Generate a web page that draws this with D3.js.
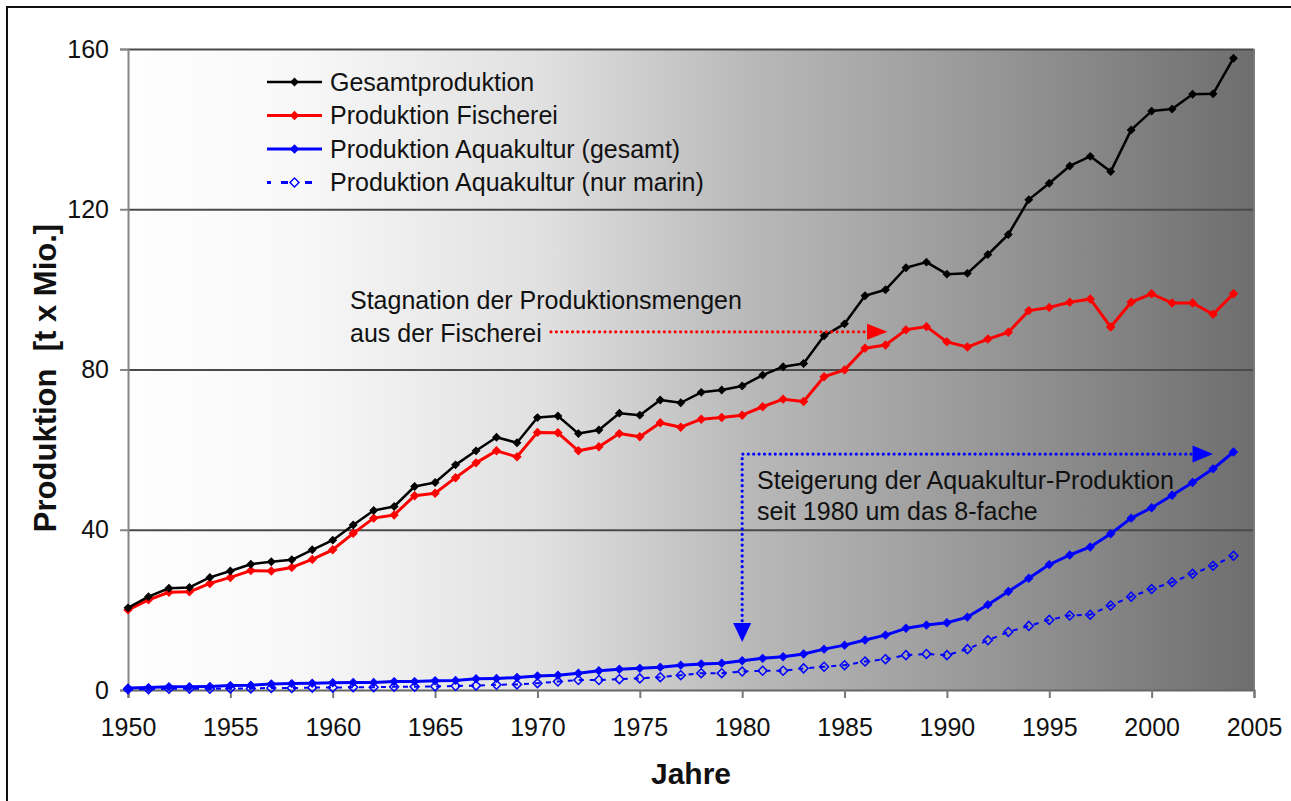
<!DOCTYPE html>
<html>
<head>
<meta charset="utf-8">
<script src="https://cdn.jsdelivr.net/npm/d3@7"></script>
<style>
  body { margin: 0; background: #fff; }
  text { font-family: "Liberation Sans", Arial, sans-serif; fill: #111; }
</style>
</head>
<body>
<svg id="chart" width="1291" height="801"></svg>
<script>
// years on the x axis
const years = [1950,1951,1952,1953,1954,1955,1956,1957,1958,1959,
  1960,1961,1962,1963,1964,1965,1966,1967,1968,1969,
  1970,1971,1972,1973,1974,1975,1976,1977,1978,1979,
  1980,1981,1982,1983,1984,1985,1986,1987,1988,1989,
  1990,1991,1992,1993,1994,1995,1996,1997,1998,1999,
  2000,2001,2002,2003,2004];

const gesamt = [20.5,23.3,25.4,25.6,28.1,29.7,31.4,32.0,32.5,35.0,
  37.4,41.2,44.8,45.8,50.8,51.8,56.2,59.7,63.1,61.7,
  68.0,68.4,64.0,64.9,69.1,68.6,72.4,71.7,74.3,74.9,
  75.9,78.6,80.7,81.5,88.4,91.4,98.4,99.9,105.4,106.8,
  103.8,104.0,108.7,113.7,122.4,126.5,130.8,133.2,129.4,139.8,
  144.5,145.0,148.7,148.8,157.7];

const fischerei = [20.0,22.5,24.4,24.5,26.6,28.1,29.8,29.7,30.6,32.6,
  35.0,39.1,42.9,43.7,48.5,49.1,53.0,56.7,59.7,58.2,
  64.3,64.2,59.7,60.7,64.0,63.2,66.7,65.6,67.6,68.0,
  68.6,70.7,72.6,72.0,78.2,79.9,85.3,86.1,89.9,90.7,
  86.9,85.6,87.6,89.3,94.7,95.5,96.8,97.6,90.6,96.8,
  98.9,96.6,96.6,93.8,98.9];

const aquaGesamt = [0.5,0.6,0.8,0.8,0.9,1.1,1.2,1.5,1.6,1.7,
  1.8,1.9,1.9,2.1,2.1,2.3,2.4,2.8,2.9,3.1,
  3.5,3.7,4.2,4.8,5.2,5.4,5.7,6.2,6.5,6.7,
  7.3,7.9,8.3,9.0,10.2,11.2,12.5,13.7,15.4,16.2,
  16.8,18.2,21.3,24.6,27.9,31.3,33.7,35.7,39.0,42.9,
  45.5,48.6,51.8,55.2,59.4];

const aquaMarin = [0.2,0.2,0.3,0.3,0.3,0.4,0.4,0.5,0.5,0.6,
  0.6,0.7,0.7,0.8,0.8,0.9,1.0,1.1,1.3,1.4,
  1.7,2.1,2.5,2.5,2.7,2.9,3.2,3.7,4.2,4.2,
  4.6,4.8,4.8,5.4,5.8,6.2,7.1,7.7,8.7,9.0,
  8.7,10.2,12.4,14.5,16.0,17.5,18.6,18.8,21.1,23.3,
  25.2,26.9,29.0,31.0,33.5];

const yTicks = [0, 40, 80, 120, 160];
const xTicks = [1950,1955,1960,1965,1970,1975,1980,1985,1990,1995,2000,2005];

const seriesNames = ["Gesamtproduktion", "Produktion Fischerei",
  "Produktion Aquakultur (gesamt)", "Produktion Aquakultur (nur marin)"];

const svg = d3.select("#chart");
const plotL = 128, plotR = 1254, plotT = 49, plotB = 690;

const x = d3.scaleLinear().domain([1950, 2005]).range([plotL, plotR]);
const y = d3.scaleLinear().domain([0, 160]).range([plotB, plotT]);

// outer frame (only left and top visible)
svg.append("path")
  .attr("d", "M7,801 L7,7 L1291,7")
  .attr("fill", "none").attr("stroke", "#111").attr("stroke-width", 2);

// background gradient of the plot area
const defs = svg.append("defs");
const grad = defs.append("linearGradient").attr("id", "bg")
  .attr("x1", 0).attr("x2", 1).attr("y1", 0).attr("y2", 0);
[[0, "#fefefe"], [0.15, "#f8f8f8"], [0.37, "#e0e0e0"], [0.55, "#b9b9b9"],
 [0.77, "#969696"], [1, "#6e6e6e"]].forEach(s => {
  grad.append("stop").attr("offset", s[0]).attr("stop-color", s[1]);
});
svg.append("rect")
  .attr("x", plotL).attr("y", plotT)
  .attr("width", plotR - plotL).attr("height", plotB - plotT)
  .attr("fill", "url(#bg)");

// gridlines
svg.append("g")
  .attr("transform", `translate(${plotL},0)`)
  .call(d3.axisLeft(y).tickValues(yTicks.slice(1)).tickSize(-(plotR - plotL)).tickFormat(""))
  .call(g => g.select(".domain").remove())
  .call(g => g.selectAll("line").attr("stroke", "#4a4a4a").attr("stroke-width", 2));

// right border
svg.append("line")
  .attr("x1", plotR).attr("x2", plotR).attr("y1", plotT).attr("y2", plotB)
  .attr("stroke", "#7a7a7a").attr("stroke-width", 2);

// y axis
const yAxis = svg.append("g")
  .attr("transform", `translate(${plotL},0)`)
  .call(d3.axisLeft(y).tickValues(yTicks).tickSize(8).tickPadding(11));
yAxis.select(".domain").attr("stroke", "#858585").attr("stroke-width", 2);
yAxis.selectAll("line").attr("stroke", "#858585").attr("stroke-width", 2);
yAxis.selectAll("text").style("font-size", "25px").attr("fill", "#111");

// x axis
const xAxis = svg.append("g")
  .attr("transform", `translate(0,${plotB})`)
  .call(d3.axisBottom(x).tickValues(xTicks).tickSize(8).tickPadding(20).tickFormat(d3.format("d")));
xAxis.select(".domain").attr("stroke", "#666").attr("stroke-width", 2);
xAxis.selectAll("line").attr("stroke", "#777").attr("stroke-width", 2);
xAxis.selectAll("text").style("font-size", "25px").attr("fill", "#111");

// axis titles
svg.append("text")
  .attr("x", 691).attr("y", 784)
  .attr("text-anchor", "middle")
  .style("font-size", "30px").style("font-weight", "bold")
  .text("Jahre");

svg.append("text")
  .attr("transform", "translate(56,378) rotate(-90)")
  .attr("text-anchor", "middle")
  .style("font-size", "31px").style("font-weight", "bold")
  .style("white-space", "pre")
  .text("Produktion  [t x Mio.]");

// series
const diamond = d3.symbol().type(d3.symbolSquare);
const series = [
  {name: seriesNames[0], values: gesamt, color: "#000", width: 2.5, mark: 28, dash: null, open: false},
  {name: seriesNames[1], values: fischerei, color: "#ff0000", width: 3, mark: 32, dash: null, open: false},
  {name: seriesNames[2], values: aquaGesamt, color: "#0000ff", width: 3, mark: 32, dash: null, open: false},
  {name: seriesNames[3], values: aquaMarin, color: "#0000ff", width: 2, mark: 40, dash: "5,6", open: true}
];

const line = d3.line().x(d => x(d[0])).y(d => y(d[1]));

// draw back to front: marin, aqua, fischerei, gesamt
series.slice().reverse().forEach(s => {
  const pts = years.map((yr, i) => [yr, s.values[i]]);
  svg.append("path")
    .datum(pts)
    .attr("d", line)
    .attr("fill", "none")
    .attr("stroke", s.color)
    .attr("stroke-width", s.width)
    .attr("stroke-dasharray", s.dash)
    .attr("stroke-linejoin", "round");
  svg.append("g").selectAll("path")
    .data(pts).join("path")
    .attr("d", diamond.size(s.mark))
    .attr("transform", d => `translate(${x(d[0])},${y(d[1])}) rotate(45)`)
    .attr("fill", s.open ? "none" : s.color)
    .attr("stroke", s.color)
    .attr("stroke-width", s.open ? 1.5 : 1);
});

// legend
const legend = svg.append("g").attr("transform", "translate(267,82)");
series.forEach((s, i) => {
  const g = legend.append("g").attr("transform", `translate(0,${i * 33.5})`);
  if (s.dash) {
    g.append("line").attr("x1", 0).attr("x2", 55).attr("y1", 0).attr("y2", 0)
      .attr("stroke", s.color).attr("stroke-width", 3)
      .attr("stroke-dasharray", "4,10,7,17,7,10");
  } else {
    g.append("line").attr("x1", 0).attr("x2", 55).attr("y1", 0).attr("y2", 0)
      .attr("stroke", s.color).attr("stroke-width", s.width);
  }
  g.append("path")
    .attr("d", diamond.size(s.mark))
    .attr("transform", "translate(27.5,0) rotate(45)")
    .attr("fill", s.open ? "#fff" : s.color)
    .attr("stroke", s.color).attr("stroke-width", s.open ? 1.5 : 1);
  g.append("text")
    .attr("x", 63).attr("y", 0).attr("dy", "0.35em")
    .style("font-size", "25px")
    .text(s.name);
});

// annotation: Fischerei
svg.append("text").attr("x", 350).attr("y", 300).attr("dy", "0.35em")
  .style("font-size", "25px").text("Stagnation der Produktionsmengen");
svg.append("text").attr("x", 350).attr("y", 333).attr("dy", "0.35em")
  .style("font-size", "25px").text("aus der Fischerei");

const redY = y(89.4);
svg.append("line")
  .attr("x1", x(1970.66)).attr("x2", x(1986.1)).attr("y1", redY).attr("y2", redY)
  .attr("stroke", "#ff0000").attr("stroke-width", 3.2)
  .attr("stroke-linecap", "round").attr("stroke-dasharray", "0,5.4");
svg.append("path")
  .attr("d", `M${x(1986.1)},${redY - 8} L${x(1987.1)},${redY} L${x(1986.1)},${redY + 8} Z`)
  .attr("fill", "#ff0000");

// annotation: Aquakultur
svg.append("text").attr("x", 757).attr("y", 480).attr("dy", "0.35em")
  .style("font-size", "25px").text("Steigerung der Aquakultur-Produktion");
svg.append("text").attr("x", 757).attr("y", 511).attr("dy", "0.35em")
  .style("font-size", "25px").text("seit 1980 um das 8-fache");

const blueY = y(58.9), blueX = x(1980);
svg.append("path")
  .attr("d", `M${blueX},${y(12.8) - 18} L${blueX},${blueY} L${x(2002.0)},${blueY}`)
  .attr("fill", "none")
  .attr("stroke", "#0000ff").attr("stroke-width", 3.2)
  .attr("stroke-linecap", "round").attr("stroke-dasharray", "0,5.4");
svg.append("path")
  .attr("d", `M${x(2002.0)},${blueY - 8.5} L${x(2003.0)},${blueY} L${x(2002.0)},${blueY + 8.5} Z`)
  .attr("fill", "#0000ff");
svg.append("path")
  .attr("d", `M${blueX - 9},${y(12.0) - 19} L${blueX},${y(12.0)} L${blueX + 9},${y(12.0) - 19} Z`)
  .attr("fill", "#0000ff");
</script>
</body>
</html>
